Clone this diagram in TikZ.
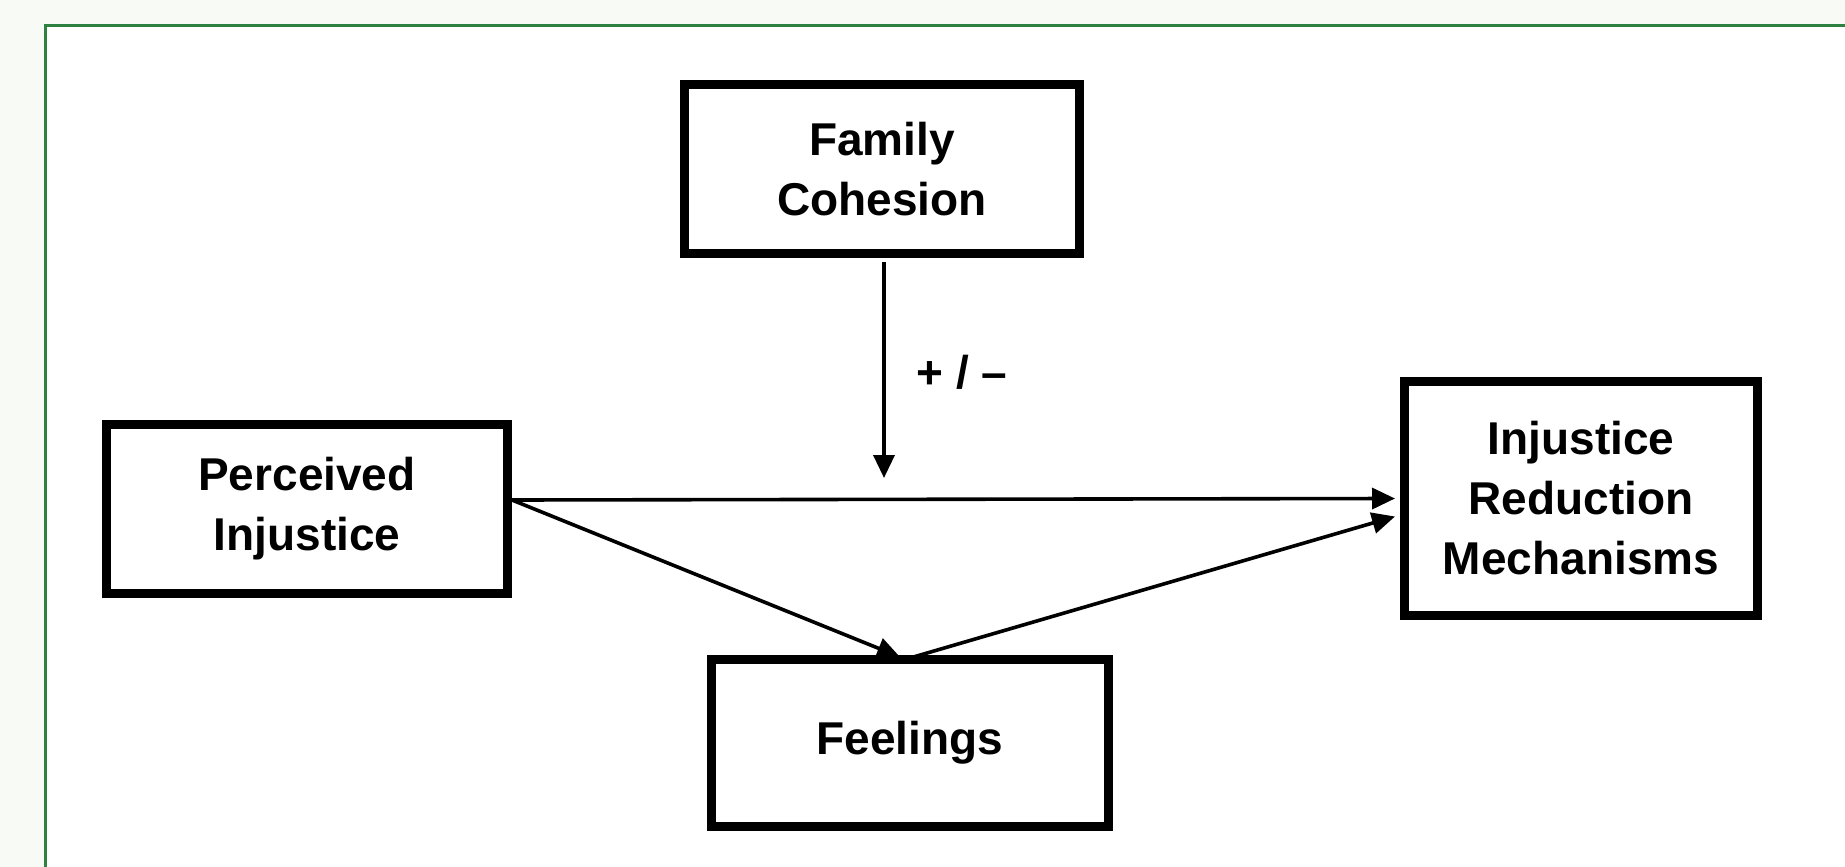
\documentclass[tikz,border=0pt]{standalone}
\usepackage{fontspec}
\setmainfont{Liberation Sans}
\usetikzlibrary{arrows.meta}
\definecolor{bgout}{RGB}{248,250,245}
\definecolor{framegreen}{RGB}{45,130,65}
\tikzset{
  box/.style={draw=black, line width=9pt, fill=white, align=center,
    font=\fontsize{46}{60}\selectfont\bfseries, inner sep=0pt},
  conn/.style={line width=3.6pt, -{Triangle[length=23pt,width=21pt]}},
}
\begin{document}
\begin{tikzpicture}[x=1pt,y=-1pt]
\useasboundingbox (0,0) rectangle (1845,867);
\fill[bgout] (0,0) rectangle (1845,867);
\draw[framegreen, line width=3pt, fill=white] (45.5,25.5) rectangle (1900,920);

\node[box, minimum width=395pt, minimum height=169pt] (FC) at (882,169) {Family\\Cohesion};
\node[box, minimum width=401pt, minimum height=169pt] (PI) at (307,509) {Perceived\\Injustice};
\node[box, minimum width=353pt, minimum height=234pt] (IRM) at (1581,498.5) {Injustice\\Reduction\\Mechanisms};
\node[box, minimum width=397pt, minimum height=167pt] (FE) at (910,743) {Feelings};

\coordinate (vt) at (884,478);
\draw[conn] ([xshift=2pt]FC.south) ++(0,4) -- (vt);
\node[font=\fontsize{46}{60}\selectfont\bfseries, inner sep=0pt] (pm) at (962,372) {+ / –};

\draw[conn] ([yshift=9pt]PI.east) -- ([xshift=-5pt]IRM.west);
\draw[conn] ([yshift=9pt]PI.east) -- ([xshift=-10pt,yshift=-2pt]FE.north);
\draw[conn] ([xshift=0pt,yshift=-3pt]FE.north) -- ([yshift=-18pt,xshift=-5pt]IRM.west);
\end{tikzpicture}
\end{document}
